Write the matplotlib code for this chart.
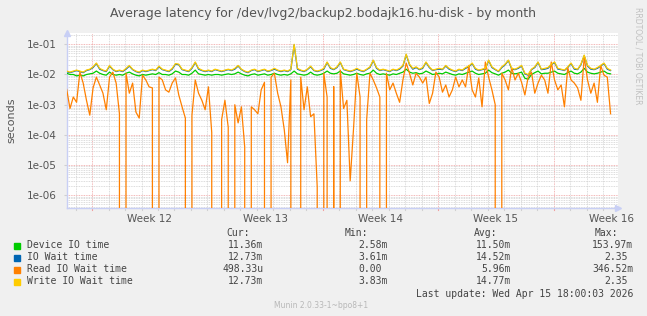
import numpy as np
import matplotlib
matplotlib.use('Agg')
import matplotlib.pyplot as plt

W, H = 647, 316

# latency samples in milliseconds, one every 0.2 day (0 = nothing measured)
sample_step = 0.2

device_ms = [11, 10, 10, 9, 9.5, 9, 10, 10.5, 11, 13,
             11, 10, 9.5, 12, 10, 9.5, 10, 9.5, 11, 12,
             10.5, 9.5, 9, 10, 9.5, 10, 10.5, 10, 11.5, 10,
             10, 9.5, 10.5, 13, 12, 10, 10, 9.5, 11, 14,
             10.5, 10, 9.5, 10, 9.5, 10, 10, 9.5, 10, 10.5,
             10, 10.5, 12, 10.5, 9.5, 9, 10, 10.5, 9.5, 10,
             10.5, 9.5, 10, 11, 10, 9.5, 10, 9.5, 10.5, 13,
             10.5, 10, 9.5, 10, 12, 10, 9.5, 10, 11, 13,
             11, 10.5, 11, 13, 10.5, 10, 9.5, 10, 11, 10,
             9.5, 10.5, 11, 14, 11, 10, 10.5, 10, 9.5, 10.5,
             10, 11, 12, 15, 12, 11, 11.5, 10.5, 11, 13,
             11.5, 10, 10.5, 11, 10.5, 12, 11, 10, 9.5, 10.5,
             10, 11, 12, 13, 11, 10, 10.5, 11, 14, 11.5,
             10.5, 9.5, 11, 12, 14, 11, 10.5, 11, 12, 7.5,
             7, 10, 11.5, 13, 10.5, 11, 11, 12, 13, 11,
             10.5, 10, 11.5, 13, 11, 10.5, 12, 16, 12, 11,
             10.5, 11, 12, 13, 11, 10.5]

iowait_ms = [12.5, 11.5, 12.5, 13.5, 12.5, 11.5, 13.5, 14.5, 17, 23,
             15, 13.5, 12.5, 19, 14.5, 12.5, 13.5, 12.5, 15, 19,
             14.5, 12.5, 11.5, 13.5, 12.5, 13.5, 14.5, 13.5, 18, 14.5,
             13.5, 12.5, 15, 22, 21, 14.5, 13.5, 12.5, 16, 25,
             15, 13.5, 12.5, 13.5, 12.5, 14.5, 13.5, 12.5, 13.5, 14.5,
             13.5, 15, 19, 14.5, 12.5, 11.5, 13.5, 14.5, 12.5, 13.5,
             14.5, 12.5, 13.5, 15, 13.5, 12.5, 13.5, 12.5, 14.5, 95,
             15, 13.5, 12.5, 14.5, 18, 13.5, 12.5, 13.5, 15, 25,
             16, 14.5, 17, 25, 14.5, 13.5, 12.5, 13.5, 15, 13.5,
             12.5, 14.5, 17, 29, 16, 13.5, 14.5, 13.5, 12.5, 14.5,
             13.5, 15, 19, 45, 21, 15, 17, 14.5, 16, 25,
             17, 13.5, 14.5, 15, 14.5, 19, 15, 13.5, 12.5, 14.5,
             13.5, 16, 18, 23, 15, 13.5, 14.5, 15, 29, 17,
             14.5, 12.5, 17, 21, 29, 15, 14.5, 16, 19, 10.5,
             9.5, 14.5, 17, 25, 14.5, 15, 16, 21, 25, 15,
             14.5, 13.5, 17, 23, 15, 14.5, 21, 42, 19, 15,
             14.5, 16, 19, 23, 15, 13.5]

read_ms = [3.2, 0.75, 1.8, 1.2, 12, 5.2, 1.4, 0.45, 3.6, 8.2,
           4.5, 2.4, 0.68, 8.2, 12, 5.2, 0.5, 0, 11, 2.4,
           5.2, 0.57, 0.36, 9.5, 6.6, 3.9, 3.6, 0, 8.2, 6.6,
           3.1, 2.6, 5.2, 7.7, 2.1, 0.85, 0.36, 0, 0.45, 6.6,
           2.4, 1.4, 0.68, 3.9, 0.12, 0, 0, 0.32, 1.4, 0.18,
           0, 1.0, 0.25, 0.85, 0.04, 0, 0.85, 0.68, 0.5, 3.1,
           5.5, 0, 8.2, 11, 2.4, 0.85, 0.15, 0.012, 6.6, 0,
           0, 8.2, 0.68, 3.9, 0.4, 0.5, 0.0019, 0, 11, 1.8,
           0, 4, 0, 14, 0.75, 1.4, 0.003, 0.15, 11, 1.8,
           0, 0.32, 11, 6.6, 3.6, 1.8, 0, 11, 3.1, 5.2,
           2.4, 1.2, 6.6, 24, 11, 4.5, 11, 8.2, 5.2, 8.2,
           1.1, 2.4, 12, 8.2, 2.6, 4.5, 1.8, 3.1, 8.2, 3.9,
           6.6, 3.9, 20, 3.1, 1.8, 7.7, 0.85, 26, 8.2, 3.1,
           1.0, 0, 11, 6.6, 3.1, 17, 6.6, 11, 5.5, 2.1,
           8.2, 12, 2.4, 5.2, 9.5, 6.6, 2.4, 26, 6.6, 3.1,
           4.5, 0.85, 17, 6.6, 5.2, 3.6, 1.4, 38, 6.6, 2.4,
           5.2, 1.2, 20, 9.5, 8.2, 0.5]

write_ms = [13, 12, 13, 14, 13, 12, 14, 15, 18, 24,
            16, 14, 13, 20, 15, 13, 14, 13, 16, 20,
            15, 13, 12, 14, 13, 14, 15, 14, 19, 15,
            14, 13, 16, 23, 22, 15, 14, 13, 17, 26,
            16, 14, 13, 14, 13, 15, 14, 13, 14, 15,
            14, 16, 20, 15, 13, 12, 14, 15, 13, 14,
            15, 13, 14, 16, 14, 13, 14, 13, 15, 100,
            16, 14, 13, 15, 19, 14, 13, 14, 16, 26,
            17, 15, 18, 26, 15, 14, 13, 14, 16, 14,
            13, 15, 18, 30, 17, 14, 15, 14, 13, 15,
            14, 16, 20, 47, 22, 16, 18, 15, 17, 26,
            18, 14, 15, 16, 15, 20, 16, 14, 13, 15,
            14, 17, 19, 24, 16, 14, 15, 16, 30, 18,
            15, 13, 18, 22, 30, 16, 15, 17, 20, 11,
            10, 15, 18, 26, 15, 16, 17, 22, 26, 16,
            15, 14, 18, 24, 16, 15, 22, 44, 20, 16,
            15, 17, 20, 24, 16, 14]

series_names = ['Device IO time', 'IO Wait time', 'Read IO Wait time', 'Write IO Wait time']
series_colors = ['#00CC00', '#0066B3', '#FF8000', '#FFCC00']
cur_vals = ['11.36m', '12.73m', '498.33u', '12.73m']
min_vals = ['2.58m', '3.61m', '0.00', '3.83m']
avg_vals = ['11.50m', '14.52m', '5.96m', '14.77m']
max_vals = ['153.97m', '2.35', '346.52m', '2.35']

week_labels = ['Week 12', 'Week 13', 'Week 14', 'Week 15', 'Week 16']
y_tick_labels = ['1e-06', '1e-05', '1e-04', '1e-03', '1e-02', '1e-01']

# layout (days on x, first week boundary offset)
x_end = 33.45
first_week = 1.54
first_day = 0.54

BG = '#F0F0F0'
TXT = '#555555'
MINOR = '#d0d0d0'
MAJOR = '#f0a0a0'
AXIS = '#c8cff5'


def fx(x):
    return x / W


def fy(y):
    return 1 - y / H


fig = plt.figure(figsize=(W / 100, H / 100), dpi=100, facecolor=BG)
ax = fig.add_axes([fx(66.7), fy(208), fx(618) - fx(66.7), fy(33) - fy(208)])
ax.set_facecolor('white')
ax.set_yscale('log')
ax.set_xlim(0, x_end)
ax.set_ylim(10 ** -6.42, 10 ** -0.626)

# grid
for k in range(34):
    d = first_day + k
    if d > x_end:
        break
    is_week = abs((d - first_week) % 7) < 1e-6
    ax.axvline(d, color=MAJOR if is_week else MINOR, lw=0.6, ls=(0, (1, 1)), zorder=0)
    ax.plot([d, d], [0, -0.012], transform=ax.get_xaxis_transform(), clip_on=False,
            color=MAJOR if is_week else MINOR, lw=0.8)
for dec in range(-7, 0):
    ax.axhline(10.0 ** dec, color=MAJOR, lw=0.6, ls=(0, (1, 1)), zorder=0)
    for m in range(2, 10):
        ax.axhline(m * 10.0 ** dec, color=MINOR, lw=0.6, ls=(0, (1, 1)), zorder=0)

series = [device_ms, iowait_ms, read_ms, write_ms]
for vals, col in zip(series, series_colors):
    xs = np.arange(len(vals)) * sample_step
    ys = np.array(vals, dtype=float) / 1000.0
    ax.plot(xs, ys, color=col, lw=0.9, zorder=3)

ax.set_yticks([10.0 ** e for e in range(-6, 0)])
ax.set_yticklabels(y_tick_labels)
ax.yaxis.set_minor_locator(matplotlib.ticker.NullLocator())
ax.tick_params(axis='y', length=2, color=MINOR, labelsize=7.5, labelcolor=TXT, pad=5)
ax.set_xticks([first_week + 3.5 + 7 * i for i in range(len(week_labels))])
ax.set_xticklabels(week_labels)
ax.tick_params(axis='x', length=0, labelsize=7.5, labelcolor=TXT, pad=4)

for s in ['top', 'right']:
    ax.spines[s].set_visible(False)
for s in ['left', 'bottom']:
    ax.spines[s].set_color(AXIS)
    ax.spines[s].set_linewidth(1.0)
ax.plot([0], [1.0], marker='^', ms=4, color=AXIS, transform=ax.transAxes, clip_on=False)
ax.plot([1.0], [0], marker='>', ms=4, color=AXIS, transform=ax.transAxes, clip_on=False)

fig.text(fx(323.5), fy(14), 'Average latency for /dev/lvg2/backup2.bodajk16.hu-disk - by month',
         ha='center', va='center', fontsize=9, color=TXT)
fig.text(fx(11), fy(120), 'seconds', rotation=90, ha='center', va='center',
         fontsize=8, color=TXT)
fig.text(fx(638), fy(56), 'RRDTOOL / TOBI OETIKER', rotation=270, ha='center', va='center',
         fontsize=5.5, color='#c0c0c0')

# legend
mono = dict(family='DejaVu Sans Mono', fontsize=7, color='#444444', va='center')
char_w = 5.9
col_right = [263.3, 387.3, 510.7, 633.3]
headers = ['Cur:', 'Min:', 'Avg:', 'Max:']
header_right = [250, 368, 497, 618]
for h, xr in zip(headers, header_right):
    fig.text(fx(xr), fy(233.3), h, ha='right', **mono)

row_y = [245.5, 257.5, 269.5, 281.5]
for i, name in enumerate(series_names):
    y = row_y[i]
    fig.patches.append(plt.Rectangle((fx(14), fy(y + 3)), 6 / W, 6 / H,
                                     transform=fig.transFigure, color=series_colors[i]))
    fig.text(fx(26.7), fy(y), name, ha='left', **mono)
    for col, xr in zip([cur_vals, min_vals, avg_vals, max_vals], col_right):
        v = col[i]
        shift = 0 if v[-1].isalpha() else char_w
        fig.text(fx(xr - shift), fy(y), v, ha='right', **mono)

fig.text(fx(633.3), fy(294), 'Last update: Wed Apr 15 18:00:03 2026', ha='right', **mono)
fig.text(fx(274), fy(305), 'Munin 2.0.33-1~bpo8+1', ha='left', va='center',
         fontsize=5.5, color='#b8b8b8')

fig.savefig('out.png', dpi=100, facecolor=BG)
